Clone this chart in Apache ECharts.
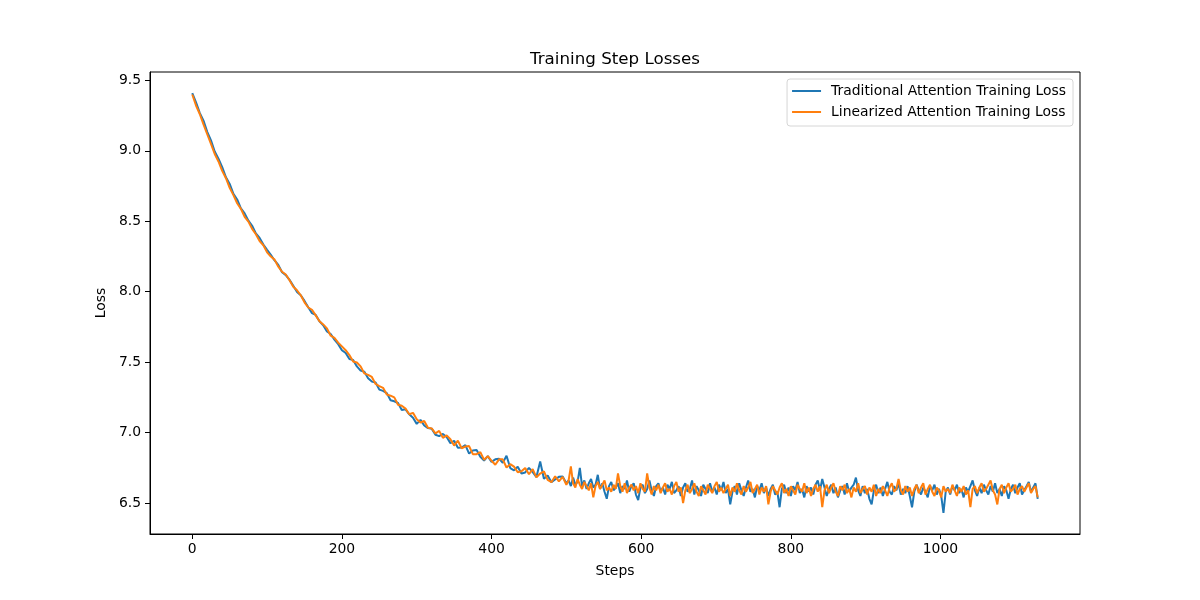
<!DOCTYPE html>
<html lang="en">

<head>
    <meta charset="UTF-8">
    <title>Training Step Losses</title>
    <style>
        body {
            margin: 0px;
            padding: 0px;
            background: #ffffff;
        }

        #lossChart {
            width: 1200px;
            height: 600px;
        }
    </style>
</head>

<body>
    <div id="lossChart"></div>
    <script src="https://cdn.jsdelivr.net/npm/echarts@6/dist/echarts.min.js"></script>
    <script>
        // steps: every 5 during the fast drop, every 3 on the noisy plateau
        var steps = [
            0, 5, 10, 15, 20, 25, 30, 35, 40, 45, 50, 55, 60, 65, 70, 75, 80, 85, 90, 95,
            100, 105, 110, 115, 120, 125, 130, 135, 140, 145, 150, 155, 160, 165, 170, 175, 180, 185, 190, 195,
            200, 205, 210, 215, 220, 225, 230, 235, 240, 245, 250, 255, 260, 265, 270, 275, 280, 285, 290, 295,
            300, 305, 310, 315, 320, 325, 330, 335, 340, 345, 350, 355, 360, 365, 370, 375, 380, 385, 390, 395,
            400, 405, 410, 415, 420, 425, 430, 435, 440, 445, 450, 455, 460, 465, 470, 475, 480, 485, 490, 495,
            500, 503, 506, 509, 512, 515, 518, 521, 524, 527,
            530, 533, 536, 539, 542, 545, 548, 551, 554, 557,
            560, 563, 566, 569, 572, 575, 578, 581, 584, 587,
            590, 593, 596, 599, 602, 605, 608, 611, 614, 617,
            620, 623, 626, 629, 632, 635, 638, 641, 644, 647,
            650, 653, 656, 659, 662, 665, 668, 671, 674, 677,
            680, 683, 686, 689, 692, 695, 698, 701, 704, 707,
            710, 713, 716, 719, 722, 725, 728, 731, 734, 737,
            740, 743, 746, 749, 752, 755, 758, 761, 764, 767,
            770, 773, 776, 779, 782, 785, 788, 791, 794, 797,
            800, 803, 806, 809, 812, 815, 818, 821, 824, 827,
            830, 833, 836, 839, 842, 845, 848, 851, 854, 857,
            860, 863, 866, 869, 872, 875, 878, 881, 884, 887,
            890, 893, 896, 899, 902, 905, 908, 911, 914, 917,
            920, 923, 926, 929, 932, 935, 938, 941, 944, 947,
            950, 953, 956, 959, 962, 965, 968, 971, 974, 977,
            980, 983, 986, 989, 992, 995, 998, 1001, 1004, 1007,
            1010, 1013, 1016, 1019, 1022, 1025, 1028, 1031, 1034, 1037,
            1040, 1043, 1046, 1049, 1052, 1055, 1058, 1061, 1064, 1067,
            1070, 1073, 1076, 1079, 1082, 1085, 1088, 1091, 1094, 1097,
            1100, 1103, 1106, 1109, 1112, 1115, 1118, 1121, 1124, 1127,
            1130
        ];

        var traditionalLoss = [
            // 0 - 100
            9.41, 9.345, 9.27, 9.215, 9.135, 9.075, 8.995, 8.945, 8.885, 8.812, 8.765, 8.695, 8.655, 8.592, 8.556, 8.505, 8.468, 8.414, 8.382, 8.335, 8.298,
            // 105 - 200
            8.262, 8.222, 8.19, 8.138, 8.118, 8.085, 8.042, 7.998, 7.975, 7.935, 7.89, 7.848, 7.835, 7.79, 7.762, 7.718, 7.70, 7.66, 7.628, 7.585,
            // 205 - 330
            7.565, 7.522, 7.515, 7.47, 7.44, 7.432, 7.385, 7.362, 7.355, 7.305, 7.296, 7.28, 7.23, 7.222, 7.21, 7.16, 7.165, 7.13, 7.105, 7.062, 7.09, 7.05, 7.032, 7.028, 6.985, 6.975,
            // 335 - 495
            6.99, 6.968, 6.925, 6.942, 6.892, 6.894, 6.911, 6.851, 6.873, 6.877, 6.828, 6.802, 6.833, 6.792, 6.81, 6.815, 6.785, 6.835, 6.748, 6.732, 6.758, 6.709, 6.717, 6.749, 6.719, 6.684, 6.795, 6.672, 6.696, 6.648, 6.667, 6.686, 6.689,
            // 500 - 1130
            6.64, 6.66, 6.62, 6.68, 6.63, 6.65, 6.75, 6.62, 6.66, 6.60,
            6.64, 6.67, 6.61, 6.63, 6.70, 6.60, 6.64, 6.58, 6.53, 6.62,
            6.65, 6.59, 6.61, 6.64, 6.57, 6.62, 6.60, 6.66, 6.58, 6.62,
            6.64, 6.56, 6.52, 6.61, 6.63, 6.57, 6.60, 6.66, 6.59, 6.55,
            6.62, 6.64, 6.58, 6.61, 6.56, 6.63, 6.60, 6.65, 6.57, 6.59,
            6.62, 6.55, 6.61, 6.64, 6.58, 6.60, 6.66, 6.56, 6.62, 6.59,
            6.55, 6.63, 6.60, 6.57, 6.64, 6.58, 6.61, 6.56, 6.63, 6.59,
            6.65, 6.57, 6.60, 6.49, 6.58, 6.62, 6.56, 6.64, 6.59, 6.55,
            6.61, 6.66, 6.58, 6.60, 6.54, 6.62, 6.59, 6.64, 6.57, 6.61,
            6.55, 6.60, 6.63, 6.56, 6.58, 6.47, 6.60, 6.63, 6.57, 6.61,
            6.55, 6.62, 6.59, 6.65, 6.57, 6.60, 6.54, 6.62, 6.58, 6.61,
            6.56, 6.63, 6.66, 6.59, 6.67, 6.61, 6.55, 6.60, 6.63, 6.57,
            6.61, 6.54, 6.59, 6.62, 6.56, 6.64, 6.58, 6.61, 6.63, 6.68,
            6.59, 6.55, 6.62, 6.57, 6.60, 6.53, 6.49, 6.59, 6.63, 6.57,
            6.61, 6.55, 6.60, 6.65, 6.58, 6.56, 6.62, 6.59, 6.64, 6.56,
            6.60, 6.57, 6.62, 6.55, 6.47, 6.58, 6.63, 6.59, 6.56, 6.61,
            6.58, 6.54, 6.62, 6.59, 6.63, 6.56, 6.60, 6.55, 6.43, 6.58,
            6.61, 6.56, 6.62, 6.59, 6.63, 6.57, 6.60, 6.54, 6.61, 6.58,
            6.62, 6.66, 6.59, 6.55, 6.61, 6.57, 6.63, 6.59, 6.56, 6.62,
            6.58, 6.64, 6.57, 6.60, 6.55, 6.62, 6.59, 6.53, 6.60, 6.63,
            6.57, 6.61, 6.64, 6.56, 6.59, 6.62, 6.65, 6.58, 6.61, 6.64,
            6.53
        ];

        var linearizedLoss = [
            // 0 - 100
            9.40, 9.322, 9.262, 9.188, 9.118, 9.05, 8.978, 8.925, 8.858, 8.806, 8.738, 8.686, 8.628, 8.588, 8.532, 8.498, 8.446, 8.408, 8.36, 8.33, 8.28,
            // 105 - 200
            8.25, 8.228, 8.178, 8.142, 8.122, 8.082, 8.035, 8.01, 7.975, 7.925, 7.888, 7.872, 7.832, 7.79, 7.768, 7.74, 7.688, 7.672, 7.638, 7.612,
            // 205 - 330
            7.585, 7.55, 7.505, 7.498, 7.47, 7.42, 7.41, 7.395, 7.345, 7.33, 7.318, 7.27, 7.262, 7.25, 7.198, 7.19, 7.17, 7.13, 7.14, 7.095, 7.072, 7.082, 7.035, 7.03, 6.995, 7.012,
            // 335 - 495
            6.963, 6.98, 6.953, 6.908, 6.943, 6.889, 6.901, 6.904, 6.847, 6.847, 6.861, 6.807, 6.833, 6.80, 6.772, 6.81, 6.81, 6.752, 6.776, 6.758, 6.718, 6.725, 6.749, 6.704, 6.741, 6.682, 6.709, 6.725, 6.664, 6.648, 6.69, 6.654, 6.686,
            // 500 - 1130
            6.63, 6.66, 6.76, 6.64, 6.61, 6.67, 6.63, 6.60, 6.65, 6.62,
            6.59, 6.64, 6.54, 6.62, 6.65, 6.60, 6.63, 6.66, 6.59, 6.61,
            6.58, 6.63, 6.60, 6.71, 6.62, 6.58, 6.64, 6.57, 6.61, 6.63,
            6.59, 6.62, 6.57, 6.64, 6.60, 6.58, 6.71, 6.61, 6.56, 6.62,
            6.59, 6.63, 6.57, 6.61, 6.64, 6.58, 6.60, 6.56, 6.62, 6.65,
            6.58, 6.61, 6.50, 6.59, 6.63, 6.57, 6.60, 6.64, 6.58, 6.55,
            6.62, 6.59, 6.56, 6.63, 6.60, 6.57, 6.62, 6.65, 6.58, 6.61,
            6.57, 6.60, 6.63, 6.55, 6.61, 6.58, 6.64, 6.59, 6.56, 6.62,
            6.58, 6.61, 6.65, 6.57, 6.60, 6.63, 6.56, 6.61, 6.58, 6.62,
            6.49, 6.58, 6.62, 6.59, 6.56, 6.61, 6.64, 6.57, 6.60, 6.55,
            6.62, 6.59, 6.56, 6.63, 6.60, 6.58, 6.64, 6.57, 6.61, 6.55,
            6.60, 6.63, 6.58, 6.62, 6.47, 6.59, 6.63, 6.57, 6.61, 6.64,
            6.58, 6.55, 6.62, 6.59, 6.63, 6.57, 6.60, 6.54, 6.61, 6.58,
            6.64, 6.57, 6.60, 6.62, 6.56, 6.61, 6.58, 6.63, 6.55, 6.60,
            6.57, 6.62, 6.59, 6.55, 6.61, 6.64, 6.58, 6.60, 6.67, 6.59,
            6.56, 6.62, 6.58, 6.61, 6.55, 6.60, 6.63, 6.57, 6.61, 6.64,
            6.56, 6.60, 6.63, 6.58, 6.55, 6.61, 6.59, 6.54, 6.62, 6.58,
            6.60, 6.57, 6.63, 6.59, 6.55, 6.61, 6.58, 6.62, 6.56, 6.59,
            6.47, 6.60, 6.62, 6.57, 6.61, 6.64, 6.58, 6.60, 6.63, 6.66,
            6.59, 6.56, 6.49, 6.60, 6.63, 6.57, 6.61, 6.64, 6.58, 6.60,
            6.63, 6.56, 6.60, 6.62, 6.58, 6.61, 6.64, 6.57, 6.60, 6.62,
            6.54
        ];

        var xTicks = [0, 200, 400, 600, 800, 1000];
        var yTicks = [6.5, 7.0, 7.5, 8.0, 8.5, 9.0, 9.5];

        lossChart()

        function pairs(xs, ys) {
            var out = [];
            for (var i = 0; i < ys.length; i++) {
                out.push([xs[i], ys[i]]);
            }
            return out;
        }

        function lossChart() {
            var dom = document.getElementById("lossChart");
            var myChart = echarts.init(dom);
            var font = 'DejaVu Sans';

            var option = {
                animation: false,
                backgroundColor: '#ffffff',
                textStyle: { fontFamily: font, color: '#000' },
                title: {
                    text: 'Training Step Losses',
                    left: 610,
                    textAlign: 'center',
                    top: 46,
                    textStyle: { fontFamily: font, fontSize: 16.7, fontWeight: 'normal', color: '#000' }
                },
                legend: {
                    orient: 'vertical',
                    right: 127,
                    top: 79,
                    padding: [5, 7, 7, 5],
                    itemGap: 7,
                    itemWidth: 29,
                    itemHeight: 2,
                    icon: 'rect',
                    backgroundColor: '#ffffff',
                    borderColor: '#d6d6d6',
                    borderWidth: 1,
                    borderRadius: 3,
                    textStyle: { fontFamily: font, fontSize: 13.9, color: '#000', padding: [0, 0, 0, 5] },
                    data: ['Traditional Attention Training Loss', 'Linearized Attention Training Loss']
                },
                grid: {
                    left: 150,
                    right: 120,
                    top: 72,
                    bottom: 66,
                    show: true,
                    borderColor: '#000',
                    borderWidth: 1,
                    containLabel: false
                },
                xAxis: {
                    type: 'value',
                    min: -56.5,
                    max: 1186.5,
                    name: 'Steps',
                    nameLocation: 'middle',
                    nameGap: 30,
                    nameTextStyle: { fontFamily: font, fontSize: 13.9, color: '#000' },
                    axisLine: { show: true, onZero: false, lineStyle: { color: '#000', width: 1 } },
                    axisTick: { show: true, inside: false, length: 5, customValues: xTicks, lineStyle: { color: '#000' } },
                    axisLabel: {
                        customValues: xTicks,
                        margin: 8,
                        fontFamily: font,
                        fontSize: 13.9,
                        color: '#000',
                        formatter: function (v) { return String(v); }
                    },
                    splitLine: { show: false }
                },
                yAxis: {
                    type: 'value',
                    min: 6.28,
                    max: 9.56,
                    name: 'Loss',
                    nameLocation: 'middle',
                    nameGap: 32,
                    nameTextStyle: { fontFamily: font, fontSize: 13.9, color: '#000' },
                    axisLine: { show: true, onZero: false, lineStyle: { color: '#000', width: 1 } },
                    axisTick: { show: true, inside: false, length: 5, customValues: yTicks, lineStyle: { color: '#000' } },
                    axisLabel: {
                        customValues: yTicks,
                        margin: 9,
                        fontFamily: font,
                        fontSize: 13.9,
                        color: '#000',
                        formatter: function (v) { return v.toFixed(1); }
                    },
                    splitLine: { show: false }
                },
                series: [
                    {
                        name: 'Traditional Attention Training Loss',
                        type: 'line',
                        showSymbol: false,
                        color: '#1f77b4',
                        lineStyle: { width: 2, color: '#1f77b4' },
                        data: pairs(steps, traditionalLoss)
                    },
                    {
                        name: 'Linearized Attention Training Loss',
                        type: 'line',
                        showSymbol: false,
                        color: '#ff7f0e',
                        lineStyle: { width: 2, color: '#ff7f0e' },
                        data: pairs(steps, linearizedLoss)
                    }
                ]
            };

            myChart.setOption(option, true);
        }
    </script>
</body>

</html>
